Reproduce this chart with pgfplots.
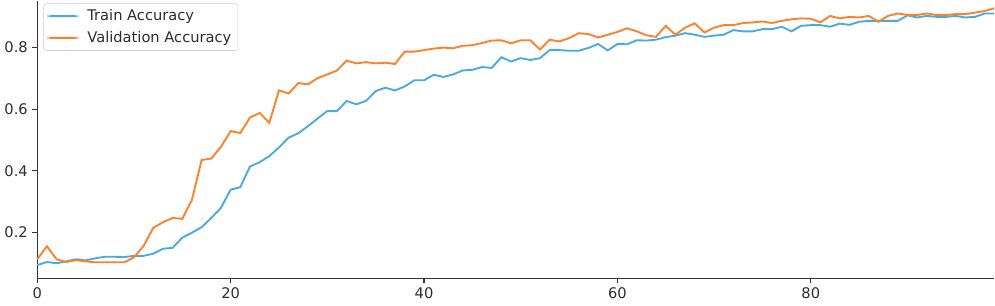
\documentclass[border=0pt]{standalone}
\usepackage{fontspec}
\setmainfont{DejaVu Sans}
\usepackage{pgfplots}
\pgfplotsset{compat=1.18}
\usepackage{pgfplotstable}
\definecolor{trainblue}{RGB}{72,170,226}
\definecolor{valorange}{RGB}{255,128,40}
\definecolor{spine}{RGB}{50,50,50}
\pgfplotstableread{
x y
0 0.094
1 0.104
2 0.100
3 0.106
4 0.113
5 0.109
6 0.116
7 0.121
8 0.121
9 0.120
10 0.124
11 0.124
12 0.131
13 0.147
14 0.150
15 0.183
16 0.199
17 0.217
18 0.247
19 0.280
20 0.339
21 0.347
22 0.414
23 0.428
24 0.448
25 0.476
26 0.508
27 0.522
28 0.545
29 0.570
30 0.594
31 0.594
32 0.627
33 0.616
34 0.627
35 0.659
36 0.670
37 0.661
38 0.674
39 0.694
40 0.694
41 0.712
42 0.705
43 0.713
44 0.726
45 0.728
46 0.737
47 0.734
48 0.769
49 0.755
50 0.766
51 0.760
52 0.766
53 0.792
54 0.792
55 0.790
56 0.790
57 0.799
58 0.812
59 0.791
60 0.812
61 0.811
62 0.824
63 0.823
64 0.826
65 0.834
66 0.839
67 0.847
68 0.842
69 0.835
70 0.839
71 0.842
72 0.857
73 0.853
74 0.853
75 0.860
76 0.860
77 0.868
78 0.853
79 0.871
80 0.873
81 0.873
82 0.868
83 0.878
84 0.874
85 0.884
86 0.887
87 0.887
88 0.887
89 0.887
90 0.905
91 0.898
92 0.903
93 0.900
94 0.900
95 0.903
96 0.898
97 0.900
98 0.911
99 0.911
}\traindata
\pgfplotstableread{
x y
0 0.113
1 0.155
2 0.113
3 0.104
4 0.110
5 0.106
6 0.103
7 0.103
8 0.103
9 0.103
10 0.119
11 0.156
12 0.215
13 0.233
14 0.247
15 0.244
16 0.306
17 0.435
18 0.440
19 0.478
20 0.529
21 0.523
22 0.573
23 0.588
24 0.556
25 0.661
26 0.651
27 0.685
28 0.681
29 0.701
30 0.713
31 0.726
32 0.758
33 0.749
34 0.753
35 0.749
36 0.751
37 0.747
38 0.787
39 0.787
40 0.792
41 0.797
42 0.800
43 0.798
44 0.806
45 0.808
46 0.815
47 0.823
48 0.824
49 0.814
50 0.824
51 0.824
52 0.794
53 0.826
54 0.820
55 0.831
56 0.847
57 0.844
58 0.833
59 0.842
60 0.851
61 0.863
62 0.853
63 0.840
64 0.835
65 0.871
66 0.842
67 0.865
68 0.879
69 0.849
70 0.865
71 0.873
72 0.873
73 0.880
74 0.882
75 0.885
76 0.880
77 0.887
78 0.892
79 0.895
80 0.894
81 0.882
82 0.903
83 0.895
84 0.900
85 0.898
86 0.903
87 0.884
88 0.903
89 0.911
90 0.906
91 0.906
92 0.911
93 0.906
94 0.906
95 0.909
96 0.909
97 0.914
98 0.919
99 0.928
}\valdata
\begin{document}
\begin{tikzpicture}
\begin{axis}[
  scale only axis,
  width=718.5pt, height=208.5pt,
  xmin=0, xmax=99,
  ymin=0.051, ymax=0.953,
  axis lines*=left,
  axis line style={spine, line width=0.8pt},
  xtick={0,20,40,60,80},
  ytick={0.2,0.4,0.6,0.8},
  tick align=outside,
  major tick length=3.6pt,
  tick style={spine, line width=0.8pt},
  /pgf/number format/assume math mode=true,
  yticklabel style={/pgf/number format/fixed, /pgf/number format/precision=1},
  ticklabel style={font=\fontsize{11}{13}\selectfont, text=black!82},
  legend style={at={(0.0065,0.99)}, anchor=north west, draw=black!18, rounded corners=2pt,
    font=\fontsize{11}{13}\selectfont, text=black!82, inner xsep=3pt, inner ysep=2.5pt,
    row sep=2.5pt, column sep=5pt},
  legend cell align=left,
  legend image code/.code={\path[#1, draw=none, fill] (0cm,-0.7pt) rectangle (0.8cm,0.7pt);},
]
\addplot[color=trainblue, line width=1.4pt] table[x=x,y=y] {\traindata};
\addlegendentry{Train Accuracy}
\addplot[color=valorange, line width=1.4pt] table[x=x,y=y] {\valdata};
\addlegendentry{Validation Accuracy}
\end{axis}
\path ([xshift=-27.75pt, yshift=-20.25pt]current axis.south west) rectangle (current axis.north east);
\end{tikzpicture}
\end{document}
